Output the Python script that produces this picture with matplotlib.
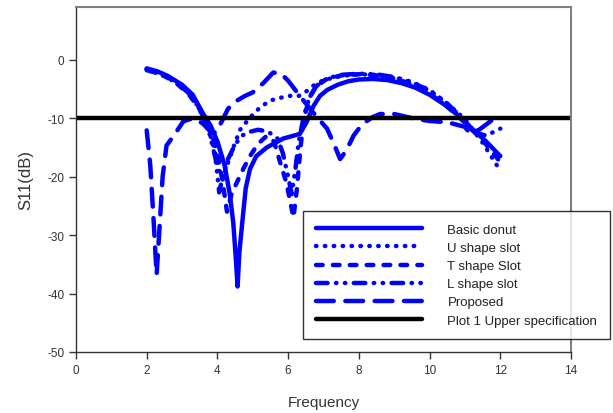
import numpy as np
import matplotlib.pyplot as plt

plt.rcParams['font.family'] = ['Liberation Sans', 'DejaVu Sans']
plt.rcParams['axes.unicode_minus'] = False
plt.rcParams['lines.dash_capstyle'] = 'round'
plt.rcParams['lines.solid_capstyle'] = 'round'

# ---- S11 data (GHz, dB) ----
freq_basic = [2.0, 2.3, 2.6, 3.0, 3.3, 3.6, 3.8, 4.0, 4.2, 4.35, 4.45, 4.52, 4.57, 4.62,
              4.7, 4.8, 4.92, 5.1, 5.4, 5.86, 6.1, 6.33, 6.52, 6.72, 6.9, 7.1, 7.4, 7.7,
              8.0, 8.4, 8.8, 9.2, 9.6, 10.0, 10.4, 10.8, 11.2, 11.6, 12.0]
s11_basic = [-1.5, -2.0, -2.8, -4.3, -6.0, -9.3, -11.2, -14, -18, -23, -28, -34, -38.8, -33,
             -28, -22, -18.7, -16.5, -15, -13.5, -13.1, -12.7, -10.7, -7.9, -6.2, -5.2, -4.3, -3.7,
             -3.4, -3.3, -3.5, -4.0, -4.8, -6.0, -7.6, -9.5, -11.8, -14.0, -16.5]

freq_u = [2.0, 2.5, 3.0, 3.4, 3.7, 3.9, 4.05, 4.15, 4.25, 4.36, 4.45, 4.64, 4.8, 4.97, 5.2,
          5.49, 5.8, 6.05, 6.3, 6.5, 6.7, 7.0, 7.5, 8.0, 8.5, 9.0, 9.5, 10.0, 10.5, 11.0,
          11.5, 12.0]
s11_u = [-1.7, -2.8, -4.5, -7.5, -11, -15, -19, -20.5, -18.5, -16.6, -15, -12, -10.8, -9.6, -8.2,
         -7.0, -6.5, -6.2, -6.2, -5.5, -4.5, -3.5, -2.8, -2.5, -2.6, -3.0, -3.8, -5.2, -7.5, -10.2,
         -14.2, -19.0]

freq_t = [2.0, 2.4, 2.8, 3.2, 3.5, 3.8, 4.0, 4.15, 4.27, 4.4, 4.55, 4.73, 4.92, 5.15, 5.4,
          5.6, 5.83, 5.95, 6.05, 6.15, 6.25, 6.35, 6.45, 6.6, 6.8, 7.1, 7.5, 8.0, 8.5, 9.0,
          9.5, 10.0, 10.5, 11.0, 11.5, 12.0]
s11_t = [-1.8, -2.5, -3.8, -6.0, -8.5, -12, -16, -21, -26, -23, -21, -18.7, -16.5, -14.4, -13.0,
         -14.0, -18.7, -21, -24, -27, -22, -15, -10, -6.5, -4.5, -3.3, -2.7, -2.5, -2.7, -3.2,
         -4.2, -5.8, -8.0, -10.8, -13.8, -17.5]

freq_l = [2.0, 2.4, 2.8, 3.2, 3.5, 3.75, 3.95, 4.05, 4.15, 4.3, 4.5, 4.7, 4.87, 5.15, 5.43,
          5.7, 5.85, 6.0, 6.1, 6.2, 6.3, 6.45, 6.6, 6.8, 7.1, 7.5, 8.0, 8.5, 9.0, 9.5, 10.0,
          10.5, 11.0, 11.3, 11.6, 12.0]
s11_l = [-1.6, -2.3, -3.6, -5.8, -8.5, -12, -17, -22.7, -20, -17, -14.5, -13, -12.4, -12, -12.3,
         -13.5, -16, -20, -23, -19, -14, -9.5, -6.5, -4.5, -3.2, -2.6, -2.4, -2.5, -3.0, -3.9, -5.3,
         -7.5, -10.5, -12.5, -13.0, -11.8]

freq_prop = [2.0, 2.1, 2.2, 2.28, 2.35, 2.45, 2.56, 2.8, 3.03, 3.2, 3.4, 3.6, 3.8, 3.95, 4.12,
             4.3, 4.5, 4.78, 5.0, 5.3, 5.58, 5.8, 6.0, 6.33, 6.7, 7.1, 7.3, 7.47, 7.65, 7.85,
             8.1, 8.4, 8.6, 9.0, 9.5, 10.0, 10.5, 11.0, 11.15, 11.4, 11.8, 12.0]
s11_prop = [-12.1, -18, -28, -36.8, -30, -20, -14.7, -12.7, -10.6, -10.2, -10.2, -11, -12.3, -12.5, -10.6,
            -8.4, -7.2, -6.2, -5.6, -4.0, -2.2, -2.4, -3.6, -6.2, -9.0, -11.8, -14.5, -17, -15.5, -13,
            -11, -9.8, -9.3, -9.3, -10.0, -10.5, -10.7, -11.5, -12.7, -12.0, -10.2, -10.0]

spec_freq = [0, 14]
spec_level = [-10, -10]

blue = '#0000FF'
lw = 3.2

fig = plt.figure(figsize=(6.13, 4.14), dpi=100)
ax = fig.add_axes([76 / 613, 61 / 414, 495 / 613, 345 / 414])

ax.plot(freq_basic, s11_basic, color=blue, lw=lw, label='Basic donut')
ax.plot(freq_u, s11_u, color=blue, lw=lw, linestyle=(0, (0.1, 1.9)), label='U shape slot')
ax.plot(freq_t, s11_t, color=blue, lw=lw, linestyle=(0, (1.5, 2.3)), label='T shape Slot')
ax.plot(freq_l, s11_l, color=blue, lw=lw,
        linestyle=(0, (2.6, 1.9, 0.1, 1.9, 0.1, 1.9)), label='L shape slot')
ax.plot(freq_prop, s11_prop, color=blue, lw=lw, linestyle=(0, (4.0, 2.6)), label='Proposed')
ax.plot(spec_freq, spec_level, color='black', lw=lw, label='Plot 1 Upper specification')

ax.set_xlim(0, 14)
ax.set_ylim(-50, 9)
ax.set_xticks(np.arange(0, 15, 2))
ax.set_yticks(np.arange(-50, 1, 10))
ax.tick_params(direction='out', length=5, width=1, labelsize=8.5, colors='#333333')

for side in ['left', 'bottom']:
    ax.spines[side].set_color('#333333')
    ax.spines[side].set_linewidth(1.0)
for side in ['top', 'right']:
    ax.spines[side].set_color('#808080')
    ax.spines[side].set_linewidth(1.5)

ax.set_xlabel('Frequency', fontsize=11, color='#333333', labelpad=14)
ax.set_ylabel('S11(dB)', fontsize=12, color='#333333', labelpad=10)

leg = fig.legend(loc='upper left', bbox_to_anchor=(303 / 613, 1 - 212 / 414),
                 borderaxespad=0, fontsize=9.5, frameon=True, fancybox=False,
                 handlelength=8.1, handletextpad=1.9, labelspacing=0.45, borderpad=0.95)
leg.get_frame().set_edgecolor('black')
leg.get_frame().set_linewidth(1.0)
for txt in leg.get_texts():
    txt.set_color('#222222')

fig.savefig('out.png', dpi=100)
